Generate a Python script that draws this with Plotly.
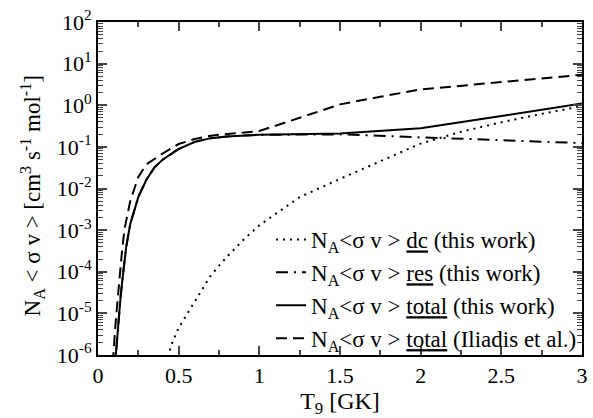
import plotly.graph_objects as go

# ---- data (T9 in GK, rate in cm^3 s^-1 mol^-1) ----
t_dc = [0.43, 0.45, 0.5, 0.6, 0.7, 0.8, 0.9, 1.0, 1.25, 1.5, 1.75, 2.0, 2.25, 2.5, 2.75, 3.0]
r_dc = [6.0e-7, 1.6e-6, 4.5e-6, 2.0e-5, 8.3e-5, 2.3e-4, 5.8e-4, 1.3e-3, 6.2e-3, 1.7e-2, 4.6e-2, 1.2e-1, 2.3e-1, 3.9e-1, 6.2e-1, 9.5e-1]

t_res = [0.1, 0.11, 0.12, 0.131, 0.14, 0.155, 0.175, 0.2, 0.25, 0.3, 0.35, 0.4, 0.5, 0.6, 0.7, 0.8, 0.9, 1.0, 1.5, 2.0, 2.5, 3.0]
r_res = [3.2e-7, 1.0e-6, 3.2e-6, 1.0e-5, 2.5e-5, 8.7e-5, 4.0e-4, 1.4e-3, 6.3e-3, 1.62e-2, 3.2e-2, 4.9e-2, 8.9e-2, 1.32e-1, 1.62e-1, 1.78e-1, 1.9e-1, 1.95e-1, 2.0e-1, 1.7e-1, 1.42e-1, 1.23e-1]

t_tot = [0.1, 0.11, 0.12, 0.131, 0.14, 0.155, 0.175, 0.2, 0.25, 0.3, 0.35, 0.4, 0.5, 0.6, 0.7, 0.8, 0.9, 1.0, 1.5, 2.0, 2.5, 3.0]
r_tot = [3.2e-7, 1.0e-6, 3.2e-6, 1.0e-5, 2.5e-5, 8.7e-5, 4.0e-4, 1.4e-3, 6.3e-3, 1.62e-2, 3.2e-2, 4.9e-2, 8.9e-2, 1.32e-1, 1.62e-1, 1.78e-1, 1.9e-1, 1.95e-1, 2.1e-1, 2.8e-1, 5.5e-1, 1.1]

t_ili = [0.085, 0.094, 0.104, 0.114, 0.125, 0.135, 0.15, 0.165, 0.2, 0.25, 0.3, 0.4, 0.5, 0.6, 0.7, 0.8, 0.9, 1.0, 1.25, 1.5, 1.75, 2.0, 2.5, 3.0]
r_ili = [2.5e-7, 1.0e-6, 3.2e-6, 1.0e-5, 3.2e-5, 8.7e-5, 3.5e-4, 1.1e-3, 5.0e-3, 1.9e-2, 3.8e-2, 6.9e-2, 1.17e-1, 1.55e-1, 1.86e-1, 2.04e-1, 2.2e-1, 2.4e-1, 5.0e-1, 1.05, 1.6, 2.4, 3.6, 5.4]

names = [
    "N<sub>A</sub><σ v > <u>dc</u> (this work)",
    "N<sub>A</sub><σ v > <u>res</u> (this work)",
    "N<sub>A</sub><σ v > <u>total</u> (this work)",
    "N<sub>A</sub><σ v > <u>total</u> (Iliadis et al.)",
]

x_ticks = [0, 0.5, 1, 1.5, 2, 2.5, 3]
x_ticktext = ["0", "0.5", "1", "1.5", "2", "2.5", "3"]
x_minor = [0.25, 0.75, 1.25, 1.75, 2.25, 2.75]
y_exps = [-6, -5, -4, -3, -2, -1, 0, 1, 2]

x_title = "T<sub>9</sub> [GK]"
y_title = "N<sub>A</sub> < σ v > [cm<sup>3</sup> s<sup>-1</sup> mol<sup>-1</sup>]"

FONT = "Liberation Serif"

fig = go.Figure()
series = [(t_dc, r_dc, "2px,5px"), (t_res, r_res, "12px,6px,2px,6px"),
          (t_tot, r_tot, "solid"), (t_ili, r_ili, "11px,6px")]
for (tx, ry, dash), nm in zip(series, names):
    fig.add_trace(go.Scatter(x=tx, y=ry, mode="lines", name=nm,
                             line=dict(color="black", width=2, dash=dash)))

y_tickvals = [10.0 ** e for e in y_exps]
y_ticktext = ["10<sup>%d</sup>" % e for e in y_exps]
y_minor = [k * 10.0 ** e for e in y_exps[:-1] for k in range(2, 10)]

fig.update_layout(
    width=593, height=418,
    margin=dict(l=98, r=5, t=22, b=55),
    paper_bgcolor="white", plot_bgcolor="white",
    font=dict(family=FONT, color="black", size=22),
    showlegend=True,
    legend=dict(x=1.0, xanchor="right", y=-0.015, yanchor="bottom",
                bgcolor="rgba(0,0,0,0)", font=dict(size=23, family=FONT),
                tracegroupgap=0, itemwidth=30),
    annotations=[dict(text=y_title, textangle=-90, xref="paper", yref="paper",
                      x=-0.135, y=0.478, xanchor="center", yanchor="middle",
                      showarrow=False, font=dict(size=23, family=FONT))],
)
fig.update_xaxes(
    range=[0, 3], tickmode="array", tickvals=x_ticks, ticktext=x_ticktext,
    ticks="inside", ticklen=9, tickwidth=1.5, showline=True, linewidth=2,
    linecolor="black", mirror="ticks", showgrid=False, zeroline=False,
    minor=dict(tickmode="array", tickvals=x_minor, ticks="inside", ticklen=5,
               tickwidth=1.5, showgrid=False),
    tickfont=dict(size=22, family=FONT),
    title=dict(text=x_title, font=dict(size=24, family=FONT), standoff=8),
)
fig.update_yaxes(
    type="log", range=[-6, 2], tickmode="array", tickvals=y_tickvals,
    ticktext=y_ticktext, ticks="inside", ticklen=9, tickwidth=1.5,
    showline=True, linewidth=2, linecolor="black", mirror="ticks",
    showgrid=False, zeroline=False,
    minor=dict(tickmode="array", tickvals=y_minor, ticks="inside", ticklen=5,
               tickwidth=1, showgrid=False),
    tickfont=dict(size=22, family=FONT),
)

fig.write_html("out.html")
